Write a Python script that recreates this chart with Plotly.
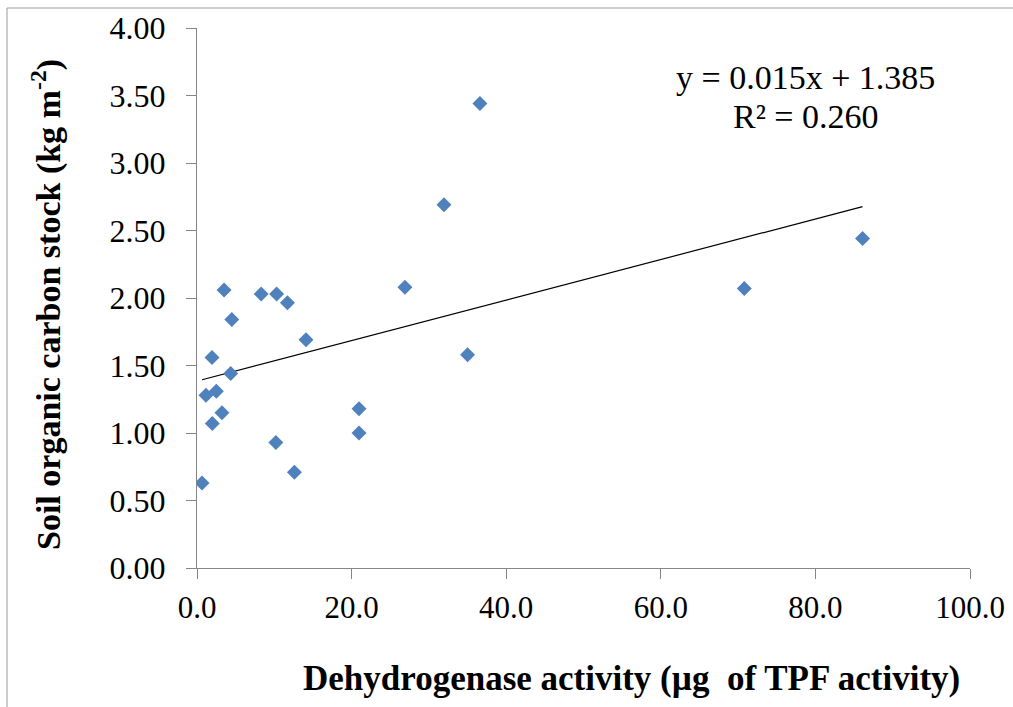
import plotly.graph_objects as go

# Dehydrogenase activity (µg TPF) vs. soil organic carbon stock (kg m^-2)
dehydrogenase = [0.65, 1.16, 1.94, 1.98, 2.5, 3.23, 3.5, 4.36, 4.5, 8.3,
                 10.2, 10.3, 11.7, 12.6, 14.1, 20.96, 20.96, 26.9, 31.95,
                 35.0, 36.6, 70.8, 86.1]
soc_stock = [0.63, 1.28, 1.56, 1.07, 1.31, 1.15, 2.06, 1.44, 1.84, 2.03,
             0.93, 2.03, 1.965, 0.71, 1.69, 1.18, 1.00, 2.08, 2.69,
             1.58, 3.44, 2.07, 2.44]

# Linear trend as reported on the chart
slope = 0.015
intercept = 1.385
r_squared = 0.260

x_ticks = [0, 20, 40, 60, 80, 100]
y_ticks = [0, 0.5, 1.0, 1.5, 2.0, 2.5, 3.0, 3.5, 4.0]

W, H = 1013, 707
L, R, T, B = 197, 43, 28, 139
PW, PH = W - L - R, H - T - B

def px_x(px):
    return (px - L) / PW

def px_y(py):
    return (H - B - py) / PH

serif = "Liberation Serif, Times New Roman, serif"
axis_col = "#868686"

fig = go.Figure()

x_lo, x_hi = min(dehydrogenase), max(dehydrogenase)
fig.add_trace(go.Scatter(
    x=[x_lo, x_hi],
    y=[slope * x_lo + intercept, slope * x_hi + intercept],
    mode="lines", line=dict(color="#000000", width=1.2),
    hoverinfo="skip", showlegend=False,
))

fig.add_trace(go.Scatter(
    x=dehydrogenase, y=soc_stock, mode="markers",
    marker=dict(symbol="diamond", size=11.5, color="#4F81BD",
                line=dict(width=0)),
    showlegend=False,
))

fig.update_xaxes(
    range=[0, 100], tickvals=x_ticks,
    ticktext=[f"{v:.1f}" for v in x_ticks],
    showgrid=False, zeroline=False, automargin=False,
    showline=True, linecolor=axis_col, linewidth=1.3,
    ticks="outside", ticklen=10, tickcolor=axis_col, tickwidth=1.3,
    tickfont=dict(family=serif, size=31, color="#000000"),
    ticklabelstandoff=2,
)
fig.update_yaxes(
    range=[0, 4], tickvals=y_ticks,
    ticktext=[f"{v:.2f}" for v in y_ticks],
    showgrid=False, zeroline=False, automargin=False,
    showline=True, linecolor=axis_col, linewidth=1.3,
    ticks="outside", ticklen=10, tickcolor=axis_col, tickwidth=1.3,
    tickfont=dict(family=serif, size=32, color="#000000"),
    ticklabelstandoff=14,
)

annotations = [
    dict(text="Dehydrogenase activity (µg  of TPF activity)",
         x=px_x(631), y=px_y(678), xref="paper", yref="paper",
         showarrow=False, xanchor="center", yanchor="middle",
         font=dict(family=serif, size=35, color="#000000", weight="bold")),
    dict(text="Soil organic carbon stock (kg m<sup>-2</sup>)",
         x=px_x(46), y=px_y(305), xref="paper", yref="paper",
         showarrow=False, xanchor="center", yanchor="middle", textangle=-90,
         font=dict(family=serif, size=34, color="#000000", weight="bold")),
    dict(text=f"y = {slope:.3f}x + {intercept:.3f}",
         x=px_x(805), y=px_y(78), xref="paper", yref="paper",
         showarrow=False, xanchor="center", yanchor="middle",
         font=dict(family=serif, size=34, color="#000000")),
    dict(text=f"R² = {r_squared:.3f}",
         x=px_x(806), y=px_y(116), xref="paper", yref="paper",
         showarrow=False, xanchor="center", yanchor="middle",
         font=dict(family=serif, size=34, color="#000000")),
]

# chart-area border (left and top edges)
shapes = [
    dict(type="line", xref="paper", yref="paper",
         x0=px_x(7), x1=px_x(7), y0=px_y(8), y1=px_y(707),
         line=dict(color="#9a9a9a", width=1)),
    dict(type="line", xref="paper", yref="paper",
         x0=px_x(7), x1=px_x(1013), y0=px_y(8), y1=px_y(8),
         line=dict(color="#9a9a9a", width=1)),
]

fig.update_layout(
    width=W, height=H,
    margin=dict(l=L, r=R, t=T, b=B),
    paper_bgcolor="#ffffff", plot_bgcolor="#ffffff",
    annotations=annotations, shapes=shapes,
    showlegend=False,
)

fig.write_html("out.html")
